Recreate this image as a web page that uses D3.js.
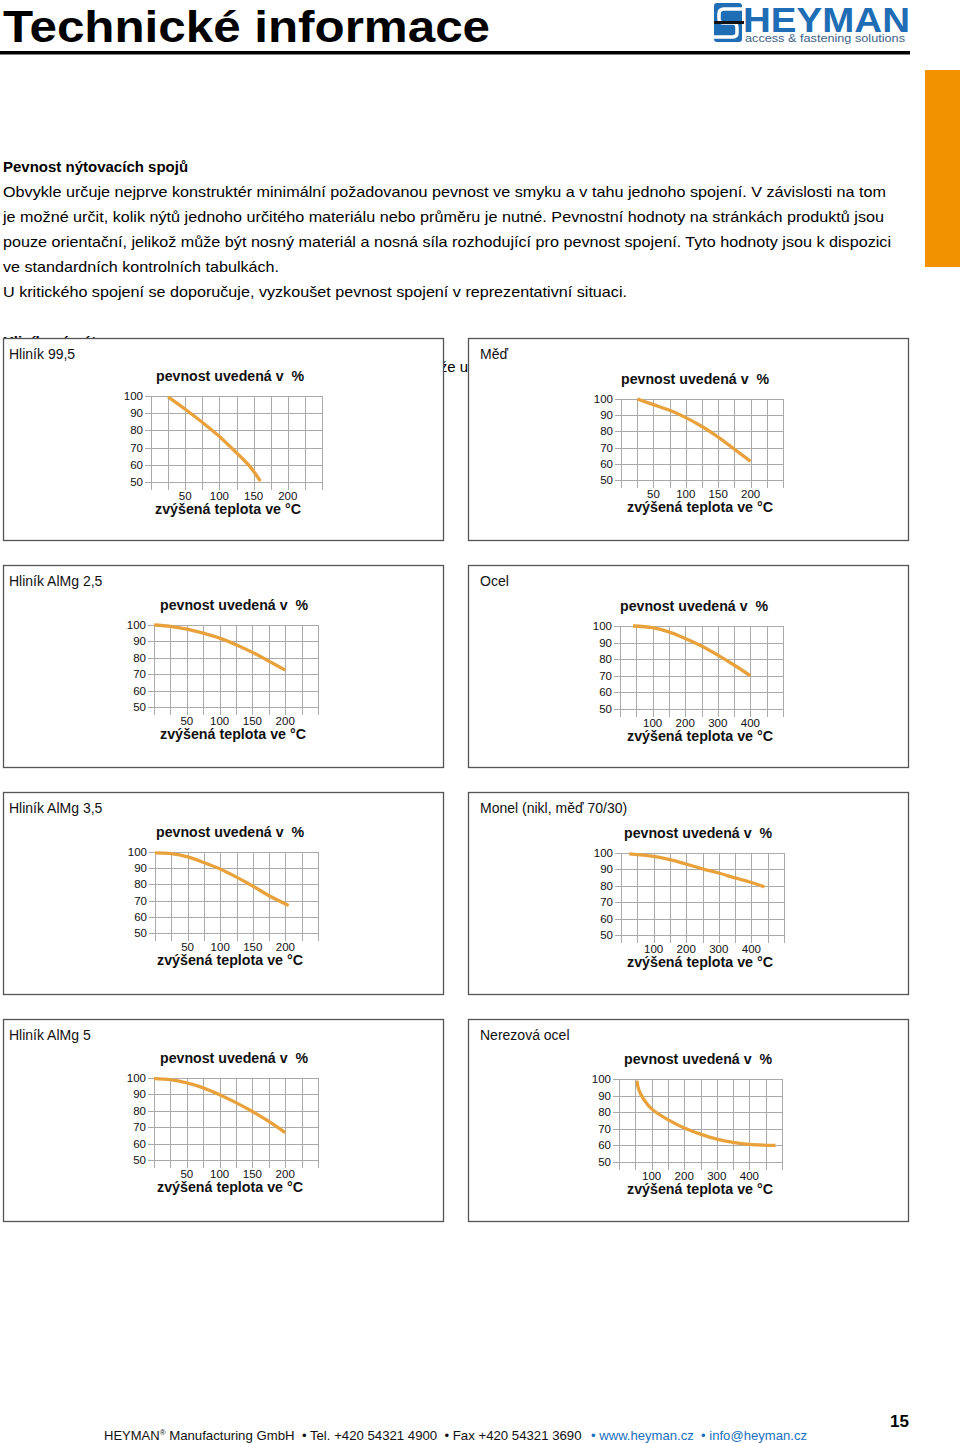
<!DOCTYPE html>
<html><head><meta charset="utf-8">
<script src="https://cdn.jsdelivr.net/npm/d3@7"></script>
<style>
html,body{margin:0;padding:0;background:#fff;}
svg{display:block;font-family:"Liberation Sans",Arial,sans-serif;}
text{white-space:pre;}
</style></head>
<body>
<svg id="page" width="960" height="1443"></svg>
<script>
// ---------- DATA ----------
const yTicks = [100, 90, 80, 70, 60, 50];
const xTicksAl = [50, 100, 150, 200];
const xTicksSteel = [100, 200, 300, 400];
const xGridAl = [0, 25, 50, 75, 100, 125, 150, 175, 200, 225, 250];
const xGridSteel = [0, 50, 100, 150, 200, 250, 300, 350, 400, 450, 500];

const hlinik995_t = [25, 50, 75, 100, 125, 145, 160];
const hlinik995_p = [99.5, 92.3, 84.7, 76.5, 67, 58.8, 50.5];
const med_t = [25, 50, 75, 100, 125, 150, 175, 200];
const med_p = [100, 96.5, 93, 88.5, 83, 76.5, 69, 61.5];
const almg25_t = [0, 25, 50, 75, 100, 125, 150, 175, 200];
const almg25_p = [100, 99.2, 97.5, 95, 92, 88, 83.3, 78, 72.5];
const ocel_t = [40, 100, 150, 200, 250, 300, 350, 400];
const ocel_p = [100, 99, 96.5, 92.5, 88, 82.5, 76.5, 70];
const almg35_t = [0, 25, 50, 75, 100, 125, 150, 175, 205];
const almg35_p = [99.5, 99, 97, 93.5, 89.5, 84.5, 79, 73, 67];
const monel_t = [25, 100, 150, 200, 250, 300, 350, 400, 440];
const monel_p = [99.5, 98, 96, 93.3, 90.3, 87.8, 84.8, 82, 79.3];
const almg5_t = [0, 25, 50, 75, 100, 125, 150, 175, 200];
const almg5_p = [99.6, 99, 97, 94, 89.8, 85, 79.6, 73.5, 66.7];
const nerez_t = [55, 60, 75, 100, 150, 200, 250, 300, 350, 400, 480];
const nerez_p = [99, 94, 88, 82, 75.5, 70.5, 66.8, 63.8, 61.8, 60.6, 60];

const titles = ["Hliník 99,5", "Měď", "Hliník AlMg 2,5", "Ocel", "Hliník AlMg 3,5",
                "Monel (nikl, měď 70/30)", "Hliník AlMg 5", "Nerezová ocel"];
const series = [[hlinik995_t, hlinik995_p], [med_t, med_p], [almg25_t, almg25_p], [ocel_t, ocel_p],
                [almg35_t, almg35_p], [monel_t, monel_p], [almg5_t, almg5_p], [nerez_t, nerez_p]];
const xMax = [250, 250, 250, 500, 250, 500, 250, 500];

// ---------- LAYOUT ----------
const boxes = [[3,338],[468,338],[3,565],[468,565],[3,792],[468,792],[3,1019],[468,1019]];
const grids = [[151,396,171,86],[621,399,162,81],[154,625,164,82],[620,626,163,83],
               [155,852,163,81],[621,853,163,82],[154,1078,164,82],[619,1079,163,83]];
const labX  = [156,621,160,620,156,624,160,624];
const axX   = [155,627,160,627,157,627,157,627];

const svg = d3.select("#page");
const ORANGE = "#e9a23b";

// ---------- HEADER ----------
svg.append("text").attr("x",3).attr("y",42).attr("font-size",44).attr("font-weight","bold")
  .attr("textLength",487).attr("lengthAdjust","spacingAndGlyphs").text("Technické informace");
svg.append("rect").attr("x",0).attr("y",51).attr("width",910).attr("height",3.5).attr("fill","#000");

// logo
const logo = svg.append("g");
logo.append("rect").attr("x",714).attr("y",3).attr("width",28).attr("height",39).attr("rx",3).attr("fill","#1f6db4");
logo.append("path").attr("d","M742,9 L724,9 Q719,9 719,14 L719,19 Q719,23 724,23 L733,23 Q737,23 737,28 L737,33 Q737,37 732,37 L714,37")
  .attr("fill","none").attr("stroke","#fff").attr("stroke-width",3.5);
logo.append("rect").attr("x",714).attr("y",21).attr("width",30).attr("height",3).attr("fill","#111");
logo.append("text").attr("x",743).attr("y",32).attr("font-size",35).attr("font-weight","bold")
  .attr("fill","#1f6db4").attr("textLength",167).attr("lengthAdjust","spacingAndGlyphs").text("HEYMAN");
logo.append("text").attr("x",745).attr("y",42).attr("font-size",11).attr("fill","#3d5f86")
  .attr("textLength",160).attr("lengthAdjust","spacingAndGlyphs").text("access & fastening solutions");

// orange side tab
svg.append("rect").attr("x",925).attr("y",70).attr("width",35).attr("height",197).attr("fill","#f39200");

// ---------- BODY TEXT ----------
svg.append("text").attr("x",3).attr("y",172).attr("font-size",15).attr("font-weight","bold").text("Pevnost nýtovacích spojů");
const lines = [
  ["Obvykle určuje nejprve konstruktér minimální požadovanou pevnost ve smyku a v tahu jednoho spojení. V závislosti na tom", 883],
  ["je možné určit, kolik nýtů jednoho určitého materiálu nebo průměru je nutné. Pevnostní hodnoty na stránkách produktů jsou", 881],
  ["pouze orientační, jelikož může být nosný materiál a nosná síla rozhodující pro pevnost spojení. Tyto hodnoty jsou k dispozici", 888],
  ["ve standardních kontrolních tabulkách.", 276],
  ["U kritického spojení se doporučuje, vyzkoušet pevnost spojení v reprezentativní situaci.", 624]
];
lines.forEach((l,i)=>{
  svg.append("text").attr("x",3).attr("y",197+25*i).attr("font-size",15)
    .attr("textLength",l[1]).attr("lengthAdjust","spacingAndGlyphs").text(l[0]);
});
// hidden text partially covered by panels
svg.append("text").attr("x",3).attr("y",347).attr("font-size",15).attr("font-weight","bold").text("Hliníkové nýty");
svg.append("text").attr("x",468).attr("y",372).attr("font-size",15).attr("text-anchor","end").text("může u");

// ---------- PANELS ----------
titles.forEach((title,i)=>{
  const [bx,by] = boxes[i];
  const [gx,gy,gw,gh] = grids[i];
  const g = svg.append("g");
  g.append("rect").attr("x",bx+0.5).attr("y",by+0.5).attr("width",440).attr("height",202)
    .attr("fill","#fff").attr("stroke","#555").attr("stroke-width",1.3);
  g.append("text").attr("x",bx + (i%2 ? 12 : 6)).attr("y",by+21).attr("font-size",14).attr("fill","#111").text(title);

  const x = d3.scaleLinear().domain([0,xMax[i]]).range([gx,gx+gw]);
  const y = d3.scaleLinear().domain([50,100]).range([gy+gh,gy]);
  const xg = xMax[i] > 250 ? xGridSteel : xGridAl;
  const xt = xMax[i] > 250 ? xTicksSteel : xTicksAl;

  g.append("g").selectAll("line").data(yTicks).join("line")
    .attr("x1",gx-6).attr("x2",gx+gw).attr("y1",d=>Math.round(y(d))+0.5).attr("y2",d=>Math.round(y(d))+0.5)
    .attr("stroke","#aaa").attr("stroke-width",1);
  g.append("g").selectAll("line").data(xg).join("line")
    .attr("x1",d=>Math.round(x(d))+0.5).attr("x2",d=>Math.round(x(d))+0.5)
    .attr("y1",gy).attr("y2",gy+gh+8)
    .attr("stroke","#aaa").attr("stroke-width",1);

  g.append("g").selectAll("text").data(yTicks).join("text")
    .attr("x",gx-8).attr("y",d=>y(d)+4).attr("text-anchor","end").attr("font-size",11.5).attr("fill","#111")
    .text(d=>d);
  g.append("g").selectAll("text").data(xt).join("text")
    .attr("x",d=>x(d)).attr("y",gy+gh+18).attr("text-anchor","middle").attr("font-size",11.5).attr("fill","#111")
    .text(d=>d);

  g.append("text").attr("x",labX[i]).attr("y",gy-15).attr("font-size",14).attr("font-weight","bold")
    .attr("fill","#111").attr("textLength",148).attr("lengthAdjust","spacingAndGlyphs").text("pevnost uvedená v  %");
  g.append("text").attr("x",axX[i]).attr("y",gy+gh+32).attr("font-size",14).attr("font-weight","bold")
    .attr("fill","#111").attr("textLength",146).attr("lengthAdjust","spacingAndGlyphs").text("zvýšená teplota ve °C");

  const [ts,ps] = series[i];
  const pts = ts.map((t,k)=>[t,ps[k]]);
  const line = d3.line().x(d=>x(d[0])).y(d=>y(d[1])).curve(d3.curveCatmullRom.alpha(0.5));
  g.append("path").attr("d",line(pts)).attr("fill","none").attr("stroke",ORANGE).attr("stroke-width",3.3);
});

// ---------- FOOTER ----------
const f = svg.append("text").attr("x",104).attr("y",1440).attr("font-size",13).attr("fill","#111");
f.append("tspan").text("HEYMAN");
f.append("tspan").attr("font-size",8).attr("dy",-5).text("®");
f.append("tspan").attr("dy",5).attr("textLength",416).attr("lengthAdjust","spacingAndGlyphs")
  .text(" Manufacturing GmbH  • Tel. +420 54321 4900  • Fax +420 54321 3690");
svg.append("text").attr("x",591).attr("y",1440).attr("font-size",13).attr("fill","#1a6fc0")
  .attr("textLength",216).attr("lengthAdjust","spacingAndGlyphs")
  .text("• www.heyman.cz  • info@heyman.cz");
svg.append("text").attr("x",890).attr("y",1427).attr("font-size",17).attr("font-weight","bold").text("15");
</script>
</body></html>
